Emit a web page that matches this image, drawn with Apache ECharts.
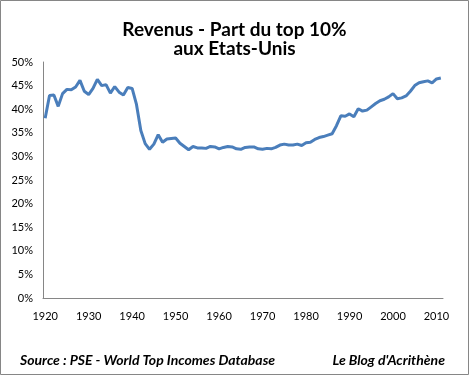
<!DOCTYPE html>
<html><head><meta charset="utf-8">
<script src="https://cdn.jsdelivr.net/npm/echarts@6/dist/echarts.min.js"></script>
<style>html,body{margin:0;padding:0;background:#fff}#c{width:469px;height:375px}</style>
</head><body><div id="c"></div>
<script>
const years = [];
for (let y = 1920; y <= 2011; y++) years.push(String(y));
const topShare = [
38.1,42.9,43.0,40.6,43.3,44.2,44.1,44.7,46.1,43.8,
43.1,44.4,46.3,45.0,45.2,43.4,44.8,43.6,43.0,44.6,
44.4,41.0,35.5,32.7,31.5,32.6,34.6,33.0,33.7,33.8,
33.9,32.8,32.1,31.4,32.1,31.8,31.8,31.7,32.1,32.0,
31.6,31.9,32.1,32.0,31.6,31.5,31.9,32.0,32.0,31.6,
31.5,31.7,31.6,31.9,32.4,32.6,32.4,32.4,32.6,32.3,
32.9,33.0,33.6,34.0,34.2,34.5,34.8,36.5,38.6,38.5,
39.0,38.4,40.1,39.6,39.8,40.5,41.2,41.8,42.1,42.6,
43.3,42.2,42.4,42.8,43.8,45.0,45.6,45.8,46.0,45.6,
46.4,46.6
];
const yTicks = [0,5,10,15,20,25,30,35,40,45,50];
const titleText = 'Revenus - Part du top 10%\naux Etats-Unis';
const sourceText = 'Source : PSE - World Top Incomes Database';
const blogText = "Le Blog d'Acrithène";

const chart = echarts.init(document.getElementById('c'), null, {renderer:'canvas'});
const font = 'Lato, "Open Sans", sans-serif';
chart.setOption({
  animation:false,
  backgroundColor:'#fff',
  title:[
    {text:titleText, left:'center', top:15, itemGap:0,
     textStyle:{fontFamily:font, fontSize:19, fontWeight:'bold', color:'#000', lineHeight:19}},
    {text:sourceText, left:15, top:348,
     textStyle:{fontFamily:font, fontSize:14, fontWeight:'bold', fontStyle:'italic', color:'#000'}},
    {text:blogText, right:19, top:348,
     textStyle:{fontFamily:font, fontSize:14, fontWeight:'bold', fontStyle:'italic', color:'#000'}}
  ],
  graphic:[{type:'rect', shape:{x:0.5,y:0.5,width:468,height:374}, style:{fill:'none', stroke:'#868686', lineWidth:1}, silent:true}],
  grid:{left:43, right:26, top:62, bottom:77, containLabel:false},
  xAxis:{
    type:'category', data:years, boundaryGap:true,
    axisLine:{lineStyle:{color:'#868686'}},
    axisTick:{show:false},
    axisLabel:{interval:function(i){return i%10===0;}, color:'#000', fontFamily:font, fontSize:11, margin:13},
    splitLine:{show:false}
  },
  yAxis:{
    type:'value', min:0, max:50, interval:5,
    axisLine:{show:true, lineStyle:{color:'#868686'}},
    axisTick:{show:false},
    axisLabel:{formatter:function(v){return yTicks.indexOf(v)>=0 ? v+'%' : '';}, color:'#000', fontFamily:font, fontSize:11, margin:10},
    splitLine:{show:false}
  },
  series:[{
    type:'line', data:topShare, showSymbol:false, symbol:'none',
    lineStyle:{color:'#4A7EBB', width:3}
  }]
});
</script></body></html>
